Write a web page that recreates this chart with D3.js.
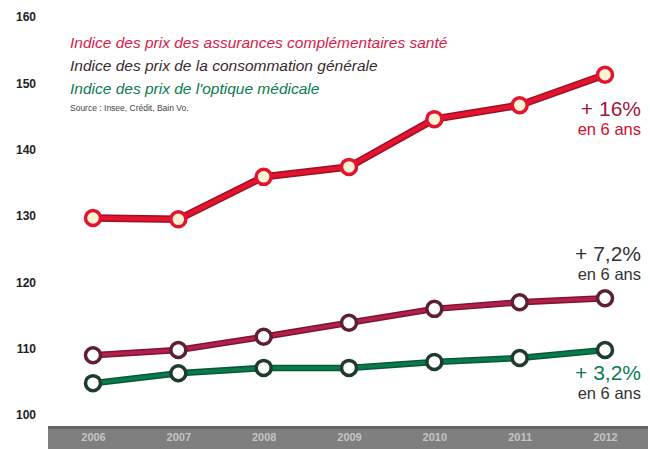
<!DOCTYPE html>
<html>
<head>
<meta charset="utf-8">
<script src="https://cdn.jsdelivr.net/npm/d3@7"></script>
<style>
  body { margin: 0; background: #fff; }
  .yaxis text { font-family: "Liberation Sans", Arial, sans-serif; font-weight: bold; font-size: 12px; fill: #222; }
  .xaxis text { font-family: "Liberation Sans", Arial, sans-serif; font-weight: bold; font-size: 11px; fill: #c4c4c4; }
  .legend { font-family: "Liberation Sans", Arial, sans-serif; font-style: italic; font-size: 15.5px; }
  .note { font-family: "Liberation Sans", Arial, sans-serif; }
</style>
</head>
<body>
<div class="chart"></div>
<script>
// Indices des prix, base 100
var years = ["2006", "2007", "2008", "2009", "2010", "2011", "2012"];
var yTicks = [100, 110, 120, 130, 140, 150, 160];

var assurances = [129.7, 129.5, 135.9, 137.4, 144.6, 146.7, 151.3];
var consommation = [109.0, 109.8, 111.8, 113.9, 116.0, 117.0, 117.6];
var optique = [104.8, 106.3, 107.1, 107.1, 108.0, 108.6, 109.8];

var seriesNames = [
  "Indice des prix des assurances complémentaires santé",
  "Indice des prix de la consommation générale",
  "Indice des prix de l'optique médicale"
];
var hausses = ["+ 16%", "+ 7,2%", "+ 3,2%"];

var svgWidth = 650;
var svgHeight = 449;

var svg = d3.select(".chart")
  .append("svg")
  .attr("width", svgWidth)
  .attr("height", svgHeight);

var xScale = d3.scalePoint()
  .domain(years)
  .range([93, 605]);

var yScale = d3.scaleLinear()
  .domain([100, 160])
  .range([415, 17]);

// y axis, labels only
var yAxis = d3.axisLeft(yScale).tickValues(yTicks).tickSize(0).tickPadding(0);
svg.append("g")
  .attr("class", "yaxis")
  .attr("transform", "translate(36, 0)")
  .call(yAxis)
  .call(g => g.select(".domain").remove());

// gray band at the bottom with the years
svg.append("rect")
  .attr("x", 48).attr("y", 426)
  .attr("width", 600).attr("height", 23)
  .attr("fill", "#7f7f7f");
svg.append("rect")
  .attr("x", 48).attr("y", 426)
  .attr("width", 600).attr("height", 3)
  .attr("fill", "#666");

var xAxis = d3.axisBottom(xScale).tickSize(0).tickPadding(0);
svg.append("g")
  .attr("class", "xaxis")
  .attr("transform", "translate(0, 433)")
  .call(xAxis)
  .call(g => g.select(".domain").remove());

// series
var series = [
  { values: assurances, line: "#e3142f", edge: "#9e0f24", ring: "#e3142f", fill: "#fff3d6" },
  { values: consommation, line: "#b3204c", edge: "#7e1434", ring: "#5e2030", fill: "#fff" },
  { values: optique, line: "#0b7a4c", edge: "#075a37", ring: "#1f3b2c", fill: "#fff" }
];

var line = d3.line()
  .x((d, i) => xScale(years[i]))
  .y(d => yScale(d));

series.forEach(function(s, k) {
  svg.append("path")
    .attr("d", line(s.values))
    .attr("fill", "none")
    .attr("stroke", s.edge)
    .attr("stroke-width", k == 0 ? 7.5 : 6.5);
  svg.append("path")
    .attr("d", line(s.values))
    .attr("fill", "none")
    .attr("stroke", s.line)
    .attr("stroke-width", k == 0 ? 4.5 : 3.5);
  svg.selectAll(null)
    .data(s.values)
    .enter()
    .append("circle")
    .attr("cx", (d, i) => xScale(years[i]))
    .attr("cy", d => yScale(d))
    .attr("r", 7.5)
    .attr("fill", s.fill)
    .attr("stroke", s.ring)
    .attr("stroke-width", 3.5);
});

// legend
var legendColors = ["#d91a48", "#3a2a30", "#0b7a4c"];
svg.selectAll(".legend")
  .data(seriesNames)
  .enter()
  .append("text")
  .attr("class", "legend")
  .attr("x", 70)
  .attr("y", (d, i) => 48 + i * 23)
  .attr("fill", (d, i) => legendColors[i])
  .text(d => d);

svg.append("text")
  .attr("class", "note")
  .attr("x", 70).attr("y", 111)
  .attr("font-size", 8.5)
  .attr("fill", "#444")
  .text("Source : Insee, Crédit, Bain Vo.");

// hausses en 6 ans
var noteY = [116, 261, 380];
var hausseColors = ["#a3163c", "#333", "#0b7a55"];
var ansColors = ["#c8102e", "#333", "#333"];
svg.selectAll(".hausse")
  .data(hausses)
  .enter()
  .append("text")
  .attr("class", "note hausse")
  .attr("x", 641)
  .attr("y", (d, i) => noteY[i])
  .attr("text-anchor", "end")
  .attr("font-size", 21)
  .attr("fill", (d, i) => hausseColors[i])
  .text(d => d);

svg.selectAll(".ans")
  .data(hausses)
  .enter()
  .append("text")
  .attr("class", "note ans")
  .attr("x", 641)
  .attr("y", (d, i) => noteY[i] + 19)
  .attr("text-anchor", "end")
  .attr("font-size", 16.5)
  .attr("fill", (d, i) => ansColors[i])
  .text("en 6 ans");
</script>
</body>
</html>
